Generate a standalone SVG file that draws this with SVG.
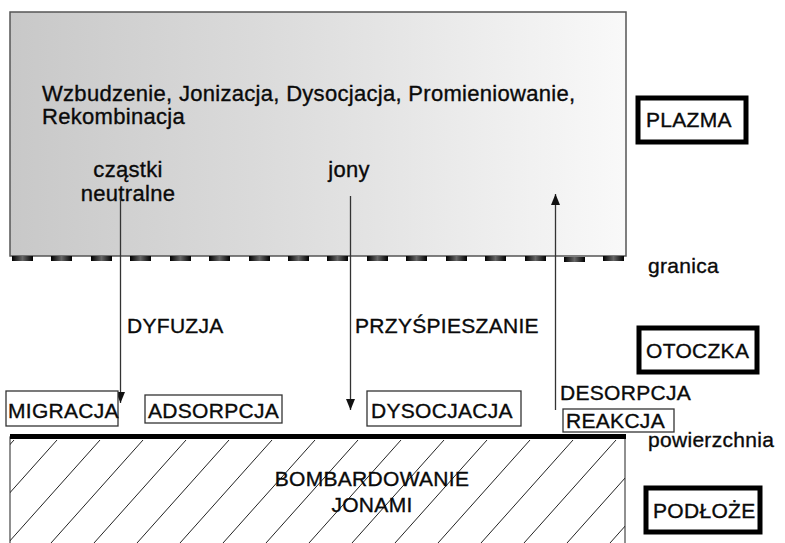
<svg xmlns="http://www.w3.org/2000/svg" width="785" height="543" viewBox="0 0 785 543">
<style>
text{font-family:"Liberation Sans",Arial,sans-serif;fill:#0a0a0a;stroke:#0a0a0a;stroke-width:0.35}
.t22{font-size:22px;letter-spacing:0.3px}
.t21{font-size:21px;letter-spacing:0.3px}
.box{fill:#fff;stroke:#333;stroke-width:1.3}
.thick{fill:#fff;stroke:#000;stroke-width:5}
.conn{stroke:#333;stroke-width:1.3;fill:none}
.hatch{stroke:#222;stroke-width:1}
</style>
<defs>
<linearGradient id="plasma" x1="0" y1="0" x2="1" y2="0">
<stop offset="0" stop-color="#c8c8c8"/>
<stop offset="0.5" stop-color="#dfdfdf"/>
<stop offset="1" stop-color="#f9f9f9"/>
</linearGradient>
<linearGradient id="dash" x1="0" y1="0" x2="1" y2="0">
<stop offset="0" stop-color="#000"/>
<stop offset="0.5" stop-color="#666"/>
<stop offset="1" stop-color="#000"/>
</linearGradient>
<marker id="ah" markerWidth="11" markerHeight="9" refX="11" refY="4.5" orient="auto" markerUnits="userSpaceOnUse" viewBox="0 0 11 9">
<path d="M0,0 L11,4.5 L0,9 Z" fill="#111"/>
</marker>
<clipPath id="subclip"><rect x="10" y="437" width="615" height="110"/></clipPath>
</defs>

<g id="plazma-region">
<rect x="10" y="12" width="616" height="244" fill="url(#plasma)" stroke="#555" stroke-width="1.5"/>
<g fill="url(#dash)">
<rect x="12" y="256" width="21" height="5"/>
<rect x="51" y="256" width="21" height="5"/>
<rect x="91" y="256" width="21" height="5"/>
<rect x="130" y="256" width="21" height="5"/>
<rect x="170" y="256" width="21" height="5"/>
<rect x="209" y="256" width="21" height="5"/>
<rect x="249" y="256" width="21" height="5"/>
<rect x="288" y="256" width="21" height="5"/>
<rect x="327" y="256" width="21" height="5"/>
<rect x="367" y="256" width="21" height="5"/>
<rect x="406" y="256" width="21" height="5"/>
<rect x="446" y="256" width="21" height="5"/>
<rect x="485" y="256" width="21" height="5"/>
<rect x="525" y="256" width="21" height="5"/>
<rect x="564" y="257" width="21" height="5"/>
<rect x="603" y="256" width="21" height="5"/>
</g>
<text class="t22" x="42" y="101">Wzbudzenie, Jonizacja, Dysocjacja, Promieniowanie,</text>
<text class="t22" x="42" y="124">Rekombinacja</text>
</g>

<g id="czastki">
<text class="t22" x="128" y="177" text-anchor="middle">cząstki</text>
<text class="t22" x="128" y="201" text-anchor="middle">neutralne</text>
</g>
<g id="jony"><text class="t22" x="349" y="177" text-anchor="middle">jony</text></g>

<g id="connectors">
<line class="conn" x1="120.5" y1="198" x2="120.5" y2="403" marker-end="url(#ah)"/>
<line class="conn" x1="350.5" y1="196" x2="350.5" y2="410" marker-end="url(#ah)"/>
<line class="conn" x1="555.5" y1="410" x2="555.5" y2="194" marker-end="url(#ah)"/>
</g>

<g id="dyfuzja"><text class="t21" x="127" y="333">DYFUZJA</text></g>
<g id="przyspieszanie"><text class="t21" x="355" y="333">PRZYŚPIESZANIE</text></g>
<g id="desorpcja"><text class="t21" x="560" y="400">DESORPCJA</text></g>

<g id="migracja">
<rect class="box" x="6" y="391" width="112" height="35"/>
<text class="t21" x="8" y="418">MIGRACJA</text>
</g>
<g id="adsorpcja">
<rect class="box" x="145" y="395" width="137" height="28"/>
<text class="t21" x="148" y="418">ADSORPCJA</text>
</g>
<g id="dysocjacja">
<rect class="box" x="367" y="391" width="154" height="35"/>
<text class="t21" x="371" y="418">DYSOCJACJA</text>
</g>
<g id="reakcja">
<rect class="box" x="563" y="409" width="111" height="23"/>
<text class="t21" x="566" y="428">REAKCJA</text>
</g>

<g id="podloze-region">
<rect x="10" y="437" width="615" height="110" fill="#fff" stroke="#555" stroke-width="1.3"/>
<g clip-path="url(#subclip)" class="hatch">
<line x1="14" y1="440" x2="-78" y2="543"/>
<line x1="57" y1="440" x2="-35" y2="543"/>
<line x1="100" y1="440" x2="8" y2="543"/>
<line x1="143" y1="440" x2="51" y2="543"/>
<line x1="186" y1="440" x2="94" y2="543"/>
<line x1="229" y1="440" x2="137" y2="543"/>
<line x1="272" y1="440" x2="180" y2="543"/>
<line x1="315" y1="440" x2="223" y2="543"/>
<line x1="358" y1="440" x2="266" y2="543"/>
<line x1="401" y1="440" x2="309" y2="543"/>
<line x1="444" y1="440" x2="352" y2="543"/>
<line x1="487" y1="440" x2="395" y2="543"/>
<line x1="530" y1="440" x2="438" y2="543"/>
<line x1="573" y1="440" x2="481" y2="543"/>
<line x1="616" y1="440" x2="524" y2="543"/>
<line x1="659" y1="440" x2="567" y2="543"/>
<line x1="702" y1="440" x2="610" y2="543"/>
</g>
<rect x="10" y="434" width="616" height="5" fill="#000"/>
<text class="t21" x="372" y="486" text-anchor="middle">BOMBARDOWANIE</text>
<text class="t21" x="372" y="512" text-anchor="middle">JONAMI</text>
</g>

<g id="plazma-label">
<rect class="thick" x="638" y="98" width="108" height="44"/>
<text class="t21" x="646" y="127">PLAZMA</text>
</g>
<g id="granica"><text class="t21" x="648" y="273">granica</text></g>
<g id="otoczka">
<rect class="thick" x="639" y="328" width="118" height="44"/>
<text class="t21" x="646" y="358">OTOCZKA</text>
</g>
<g id="powierzchnia"><text class="t21" x="648" y="447">powierzchnia</text></g>
<g id="podloze">
<rect class="thick" x="646" y="488" width="114" height="44"/>
<text class="t21" x="653" y="518">PODŁOŻE</text>
</g>
</svg>
